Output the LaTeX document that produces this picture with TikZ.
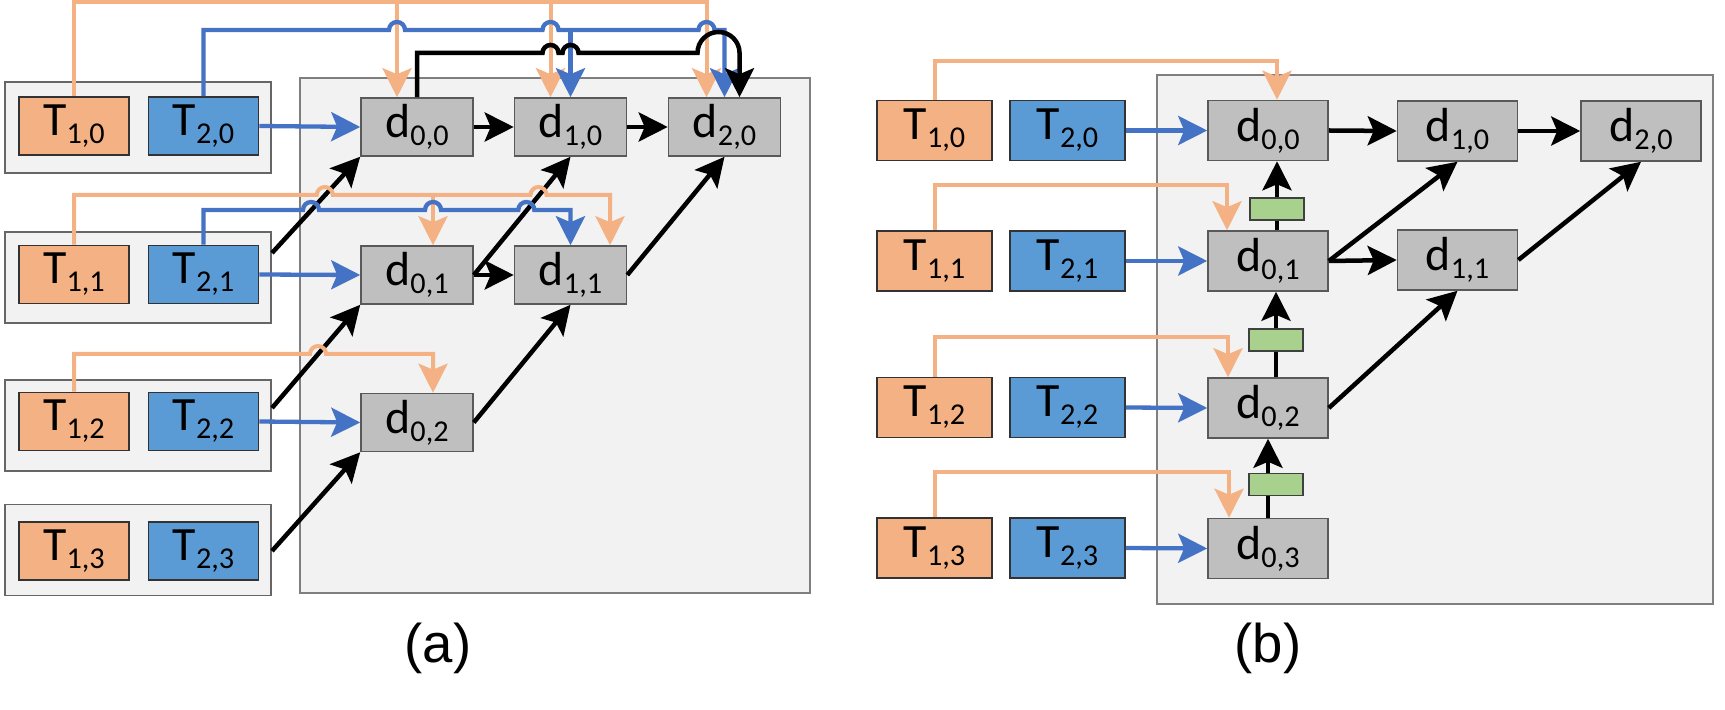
\documentclass[tikz,border=0pt]{standalone}
\usepackage{fontspec}
\setmainfont{Carlito}
\newfontfamily\labfont{Liberation Sans}
\usetikzlibrary{arrows.meta,calc}
\definecolor{tone}{HTML}{F4B183}
\definecolor{ttwo}{HTML}{5B9BD5}
\definecolor{oline}{HTML}{F4B183}
\definecolor{bline}{HTML}{4472C4}
\definecolor{dgray}{HTML}{BFBFBF}
\definecolor{panelfill}{HTML}{F2F2F2}
\definecolor{panelbord}{HTML}{7F7F7F}
\definecolor{gfill}{HTML}{A9D18E}
\newcommand{\lbl}[2]{#1\raisebox{-0.17em}{\fontsize{8.6}{9}\selectfont #2}}
\tikzset{
  boxfont/.style={font=\fontsize{13.6}{15}\selectfont},
  panelbox/.style={draw=panelbord, fill=panelfill, line width=0.018cm},
  grp/.style={draw=black!60, fill=panelfill, line width=0.018cm, minimum width=2.66cm, minimum height=0.91cm, inner sep=0},
  tonebox/.style={boxfont, draw=black!80, fill=tone, line width=0.015cm, minimum width=1.10cm, minimum height=0.58cm, inner sep=0},
  ttwobox/.style={tonebox, fill=ttwo},
  dbox/.style={boxfont, draw=black!65, fill=dgray, line width=0.015cm, minimum width=1.12cm, minimum height=0.58cm, inner sep=0},
  toneb/.style={tonebox, minimum width=1.15cm, minimum height=0.60cm},
  ttwob/.style={ttwobox, minimum width=1.15cm, minimum height=0.60cm},
  dboxb/.style={dbox, minimum width=1.20cm, minimum height=0.60cm},
  gbox/.style={draw=black!75, fill=gfill, line width=0.015cm, minimum width=0.54cm, minimum height=0.22cm, inner sep=0},
  tip/.style={-{Stealth[length=0.29cm, width=0.29cm, inset=0.06cm]}},
  oarr/.style={draw=oline, line width=0.04cm, tip},
  barr/.style={draw=bline, line width=0.043cm, tip},
  karr/.style={draw=black, line width=0.045cm, tip},
  kline/.style={draw=black, line width=0.045cm},
  caption/.style={font=\labfont\fontsize{15.5}{18}\selectfont}
}
\begin{document}
\begin{tikzpicture}[x=0.01cm, y=-0.01cm]
\useasboundingbox (0,0) rectangle (1725,710);

% ---------------- panel (a) ----------------
\draw[panelbox] (300,78) rectangle (810,593);
\node[grp] (G0) at (138,127.5) {};
\node[grp] (G1) at (138,277.5) {};
\node[grp] (G2) at (138,425.5) {};
\node[grp] (G3) at (138,550) {};

\node[tonebox] (T10) at (74,126) {\lbl{T}{1,0}};
\node[ttwobox] (T20) at (203.5,126) {\lbl{T}{2,0}};
\node[tonebox] (T11) at (74,274.5) {\lbl{T}{1,1}};
\node[ttwobox] (T21) at (203.5,274.5) {\lbl{T}{2,1}};
\node[tonebox] (T12) at (74,421.5) {\lbl{T}{1,2}};
\node[ttwobox] (T22) at (203.5,421.5) {\lbl{T}{2,2}};
\node[tonebox] (T13) at (74,551) {\lbl{T}{1,3}};
\node[ttwobox] (T23) at (203.5,551) {\lbl{T}{2,3}};

\node[dbox] (d00) at (417,127) {\lbl{d}{0,0}};
\node[dbox] (d10) at (570.5,127) {\lbl{d}{1,0}};
\node[dbox] (d20) at (724.5,127) {\lbl{d}{2,0}};
\node[dbox] (d01) at (417,275) {\lbl{d}{0,1}};
\node[dbox] (d11) at (570.5,275) {\lbl{d}{1,1}};
\node[dbox] (d02) at (417,422.5) {\lbl{d}{0,2}};

\coordinate (s1) at ($(G1.east)+(0,-24.5)$);
\coordinate (s2) at ($(G2.east)+(0,-17.5)$);
\coordinate (s3) at ($(G3.east)+(0,1)$);

% blue horizontal inputs
\draw[barr] (T20.east) -- (d00.west);
\draw[barr] (T21.east) -- (d01.west);
\draw[barr] (T22.east) -- (d02.west);

% black horizontal and diagonal
\draw[karr] (d00.east) -- (d10.west);
\draw[karr] (d10.east) -- (d20.west);
\draw[karr] (d01.east) -- (d11.west);
\draw[karr] (s1) -- (d00.south west);
\draw[karr] (s2) -- (d01.south west);
\draw[karr] (s3) -- (d02.south west);
\draw[karr] (d01.east) -- (d10.south);
\draw[karr] (d11.east) -- (d20.south);
\draw[karr] (d02.east) -- (d11.south);

% row 0 : orange tree at the top
\draw[oarr] (T10.north) |- ($(d20.north)+(-18,-95)$) -- ($(d20.north)+(-18,0)$);
\draw[oarr] ($(d00.north)+(-20,-95)$) -- ($(d00.north)+(-20,0)$);
\draw[oarr] ($(d10.north)+(-20,-95)$) -- ($(d10.north)+(-20,0)$);

% row 0 : blue with jumps
\draw[barr] (T20.north) |- (389,30) arc[start angle=180, end angle=0, radius=0.08cm]
  -- (542.5,30) arc[start angle=180, end angle=0, radius=0.08cm]
  -- (698.5,30) arc[start angle=180, end angle=0, radius=0.08cm]
  -| (d20.north);
\draw[barr] ($(d10.north)+(0,-68)$) -- (d10.north);

% row 0 : black with jumps
\draw[karr] (d00.north) |- (542.5,53) arc[start angle=180, end angle=0, radius=0.08cm]
  -- (562.5,53) arc[start angle=180, end angle=0, radius=0.08cm]
  -- (697.5,53) arc[start angle=180, end angle=0, radius=0.21cm]
  -- ($(d20.north)+(15,0)$);

% row 1 : orange
\draw[oarr] (T11.north) |- (316.8,195) arc[start angle=180, end angle=0, radius=0.08cm]
  -- (530.5,195) arc[start angle=180, end angle=0, radius=0.08cm]
  -| ($(d11.north)+(39.5,0)$);
\draw[oarr] ($(d01.north)+(16,-51)$) -- ($(d01.north)+(16,0)$);

% row 1 : blue
\draw[barr] (T21.north) |- (303,210) arc[start angle=180, end angle=0, radius=0.08cm]
  -- (425,210) arc[start angle=180, end angle=0, radius=0.08cm]
  -- (518.3,210) arc[start angle=180, end angle=0, radius=0.08cm]
  -| (d11.north);

% row 2 : orange
\draw[oarr] (T12.north) |- (310,354) arc[start angle=180, end angle=0, radius=0.08cm]
  -| ($(d02.north)+(16,0)$);

\node[caption] (capa) at (438,648) {(a)};

% ---------------- panel (b) ----------------
\draw[panelbox] (1157,75) rectangle (1713,604);

\node[toneb] (T10b) at (934.5,130.5) {\lbl{T}{1,0}};
\node[ttwob] (T20b) at (1067.5,130.5) {\lbl{T}{2,0}};
\node[toneb] (T11b) at (934.5,261) {\lbl{T}{1,1}};
\node[ttwob] (T21b) at (1067.5,261) {\lbl{T}{2,1}};
\node[toneb] (T12b) at (934.5,407.5) {\lbl{T}{1,2}};
\node[ttwob] (T22b) at (1067.5,407.5) {\lbl{T}{2,2}};
\node[toneb] (T13b) at (934.5,548) {\lbl{T}{1,3}};
\node[ttwob] (T23b) at (1067.5,548) {\lbl{T}{2,3}};

\node[dboxb] (d00b) at (1268,130.5) {\lbl{d}{0,0}};
\node[dboxb] (d10b) at (1457.5,131) {\lbl{d}{1,0}};
\node[dboxb] (d20b) at (1641,131) {\lbl{d}{2,0}};
\node[dboxb] (d01b) at (1268,261) {\lbl{d}{0,1}};
\node[dboxb] (d11b) at (1457.5,260) {\lbl{d}{1,1}};
\node[dboxb] (d02b) at (1268,408) {\lbl{d}{0,2}};
\node[dboxb] (d03b) at (1268,548.5) {\lbl{d}{0,3}};

\node[gbox] (g1) at (1277,209) {};
\node[gbox] (g2) at (1276,340) {};
\node[gbox] (g3) at (1276,484.5) {};

% blue inputs
\draw[barr] (T20b.east) -- (d00b.west);
\draw[barr] (T21b.east) -- (d01b.west);
\draw[barr] (T22b.east) -- (d02b.west);
\draw[barr] (T23b.east) -- (d03b.west);

% orange inputs
\draw[oarr] (T10b.north) |- ($(d00b.north)+(9,-38.5)$) -- ($(d00b.north)+(9,0)$);
\draw[oarr] (T11b.north) |- ($(d01b.north)+(-41,-45)$) -- ($(d01b.north)+(-41,0)$);
\draw[oarr] (T12b.north) |- ($(d02b.north)+(-40,-40)$) -- ($(d02b.north)+(-40,0)$);
\draw[oarr] (T13b.north) |- ($(d03b.north)+(-39,-45.5)$) -- ($(d03b.north)+(-39,0)$);

% vertical chain through green boxes
\draw[kline] (d01b.north -| g1) -- (g1.south);
\draw[karr] (g1.north) -- (d00b.south -| g1);
\draw[kline] (d02b.north -| g2) -- (g2.south);
\draw[karr] (g2.north) -- (d01b.south -| g2);
\draw[kline] (d03b.north) -- (d03b.north |- g3.south);
\draw[karr] (d03b.north |- g3.north) -- (d02b.south);

% black horizontal and diagonal
\draw[karr] (d00b.east) -- (d10b.west);
\draw[karr] (d10b.east) -- (d20b.west);
\draw[karr] (d01b.east) -- (d11b.west);
\draw[karr] (d01b.east) -- (d10b.south);
\draw[karr] (d11b.east) -- (d20b.south);
\draw[karr] (d02b.east) -- (d11b.south);

\node[caption] (capb) at (1268,648) {(b)};
\end{tikzpicture}
\end{document}
